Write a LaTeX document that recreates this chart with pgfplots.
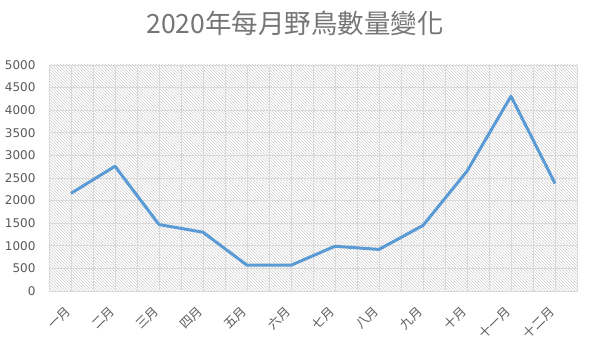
\documentclass[border=0pt]{standalone}
\usepackage{pgfplots}
\pgfplotsset{compat=1.18}
\usepackage{fontspec}
\setmainfont{DejaVu Sans}
\newfontfamily\cjk{Noto Sans CJK TC}
\usetikzlibrary{patterns.meta}
\definecolor{linecol}{HTML}{5B9BD5}
\definecolor{gridcol}{HTML}{D9D9D9}
\definecolor{txt}{HTML}{595959}
\definecolor{ttl}{HTML}{757575}
\definecolor{hatch}{HTML}{CDCDCD}
\begin{document}
\begin{tikzpicture}
\useasboundingbox (0,0) rectangle (590bp,352bp);
\node[text=ttl, font=\cjk\fontsize{26.5bp}{30bp}\selectfont] at (295bp,329bp) {2020年每月野鳥數量變化};
\begin{axis}[
 at={(49bp,61bp)}, anchor=south west, scale only axis, width=528bp, height=226bp,
 xmin=-0.5, xmax=11.5, ymin=0, ymax=5000,
 xtick={0,...,11},
 xticklabels={一月,二月,三月,四月,五月,六月,七月,八月,九月,十月,十一月,十二月},
 minor xtick={-0.5,0.5,...,11.5},
 ytick={0,500,...,5000},
 xmajorgrids, xminorgrids, ymajorgrids,
 grid style={gridcol, line width=0.75bp},
 minor grid style={gridcol, line width=0.75bp},
 major tick length=0, minor tick length=0,
 axis line style={gridcol, line width=0.75bp},
 axis background/.style={pattern={Lines[angle=-45, distance=2.1213bp, line width=0.55bp]}, pattern color=hatch},
 /pgf/number format/assume math mode=true,
 /pgf/number format/1000 sep={},
 scaled y ticks=false,
 yticklabel style={text=txt, font=\fontsize{12bp}{14bp}\selectfont, xshift=-10bp},
 xticklabel shift=15bp,
 xticklabel style={text=txt, font=\cjk\fontsize{12.5bp}{14bp}\selectfont, rotate=45, anchor=east, xshift=-1bp},
]
\addplot[linecol, line width=3bp, line join=round] coordinates {
 (0,2160) (1,2760) (2,1470) (3,1300) (4,570) (5,570)
 (6,990) (7,920) (8,1450) (9,2650) (10,4310) (11,2380)
};
\end{axis}
\end{tikzpicture}
\end{document}
